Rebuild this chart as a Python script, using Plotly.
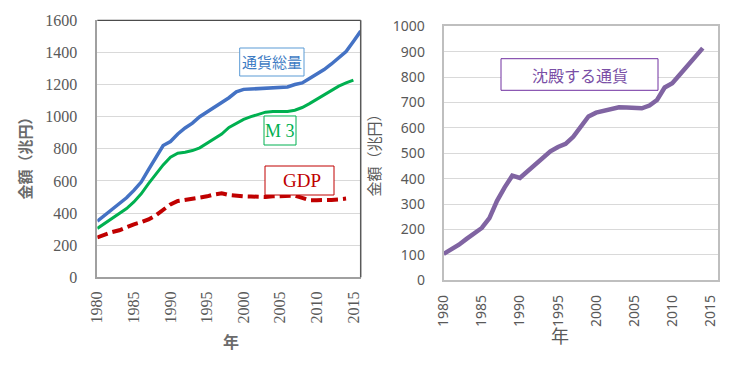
import plotly.graph_objects as go

W, H = 729, 367

years = list(range(1980, 2017))

money_total = [349, 385, 420, 455, 495, 541, 593, 670, 745, 820, 845, 892, 930, 960, 1000,
               1030, 1055, 1085, 1118, 1155, 1170, 1172, 1175, 1180, 1183, 1183, 1185, 1200,
               1210, 1238, 1265, 1293, 1328, 1365, 1406, 1468, 1533]
m3 = [304, 335, 366, 393, 428, 469, 520, 583, 645, 700, 748, 773, 779, 789, 806, 835, 862,
      892, 933, 958, 983, 1000, 1015, 1028, 1032, 1032, 1032, 1040, 1057, 1081, 1108, 1135,
      1162, 1190, 1210, 1228, None]
gdp = [248, 267, 281, 293, 314, 330, 343, 360, 386, 421, 454, 475, 483, 485, 496, 504, 516,
       523, 512, 506, 504, 503, 500, 500, 504, 506, 510, 508, 494, 480, 480, 478, 482, 485,
       490, None, None]
sediment = [104, 121, 140, 163, 186, 206, 245, 313, 366, 412, 403, 430, 456, 482, 508, 525,
            537, 565, 605, 645, 660, 666, 674, 681, 680, 678, 677, 688, 710, 759, 776, 810,
            845, 880, 914, None, None]

xtick_vals = [1980, 1985, 1990, 1995, 2000, 2005, 2010, 2015]
xtick_text = [str(v) for v in xtick_vals]

label_total = "通貨総量"
label_m3 = "M 3"
label_gdp = "GDP"
label_sed = "沈殿する通貨"
ytitle = "金額（兆円）"
xtitle = "年"


def px(x):
    return x / W


def py(y):
    return 1 - y / H


SERIF = "Liberation Serif, Times New Roman, serif"
SANS = "Noto Sans, sans-serif"
CJK = "Noto Sans CJK JP, sans-serif"
GREY = "#595959"

fig = go.Figure()
fig.add_trace(go.Scatter(x=years, y=money_total, mode="lines", xaxis="x", yaxis="y",
                         line=dict(color="#4472C4", width=3.5), connectgaps=False))
fig.add_trace(go.Scatter(x=years, y=m3, mode="lines", xaxis="x", yaxis="y",
                         line=dict(color="#00B050", width=3), connectgaps=False))
fig.add_trace(go.Scatter(x=years, y=gdp, mode="lines", xaxis="x", yaxis="y",
                         line=dict(color="#C00000", width=4, dash="11px,5px"), connectgaps=False))
fig.add_trace(go.Scatter(x=years, y=sediment, mode="lines", xaxis="x2", yaxis="y2",
                         line=dict(color="#8064A2", width=4.5), connectgaps=False))

L = dict(x0=89.3, x1=352.7, y0=12.3, y1=269.3)
R = dict(x0=435.7, x1=710.0, y0=18.3, y1=272.3)

fig.update_layout(
    width=W, height=H,
    margin=dict(l=0, r=0, t=0, b=0),
    paper_bgcolor="white", plot_bgcolor="white",
    showlegend=False,
    font=dict(family=SERIF),
    xaxis=dict(domain=[px(L["x0"]), px(L["x1"])], anchor="y", range=[1980, 2016],
               tickvals=xtick_vals, ticktext=xtick_text, tickangle=-90,
               tickfont=dict(family=SERIF, size=16, color=GREY), showgrid=False,
               zeroline=False, showline=True, linecolor="#a0a0a0", linewidth=1.5,
               ticks="", ticklabelstandoff=6, automargin=False),
    yaxis=dict(domain=[py(L["y1"]), py(L["y0"])], anchor="x", range=[0, 1600], dtick=200,
               tickfont=dict(family=SERIF, size=16, color=GREY), showgrid=True,
               gridcolor="#d9d9d9", gridwidth=1, zeroline=False, showline=True,
               linecolor="#a0a0a0", linewidth=1.5, ticks="", ticklabelstandoff=15,
               automargin=False),
    xaxis2=dict(domain=[px(R["x0"]), px(R["x1"])], anchor="y2", range=[1980, 2016],
                tickvals=xtick_vals, ticktext=xtick_text, tickangle=-90,
                tickfont=dict(family=SANS, size=14, color=GREY), showgrid=False,
                zeroline=False, showline=True, linecolor="#bfbfbf", linewidth=2, mirror=True,
                ticks="", ticklabelstandoff=7, automargin=False),
    yaxis2=dict(domain=[py(R["y1"]), py(R["y0"])], anchor="x2", range=[0, 1000], dtick=100,
                tickfont=dict(family=SANS, size=14, color=GREY), showgrid=True,
                gridcolor="#d9d9d9", gridwidth=1, zeroline=False, showline=True,
                linecolor="#bfbfbf", linewidth=2, mirror=True, ticks="",
                ticklabelstandoff=14, automargin=False),
)

shapes = [
    # left chart top and right borders
    dict(type="line", xref="paper", yref="paper", x0=px(L["x0"]), x1=px(L["x1"]),
         y0=py(L["y0"]), y1=py(L["y0"]), line=dict(color="#202020", width=1)),
    dict(type="line", xref="paper", yref="paper", x0=px(L["x1"]), x1=px(L["x1"]),
         y0=py(L["y0"]), y1=py(L["y1"]), line=dict(color="#595959", width=1.5)),
    # label boxes
    dict(type="rect", xref="paper", yref="paper", x0=px(231.7), x1=px(296), y0=py(68),
         y1=py(40), line=dict(color="#5B9BD5", width=1), fillcolor="white"),
    dict(type="rect", xref="paper", yref="paper", x0=px(256), x1=px(288), y0=py(137),
         y1=py(108), line=dict(color="#00B050", width=1), fillcolor="white"),
    dict(type="rect", xref="paper", yref="paper", x0=px(257), x1=px(326), y0=py(187),
         y1=py(158), line=dict(color="#C00000", width=1), fillcolor="white"),
    dict(type="rect", xref="paper", yref="paper", x0=px(493), x1=px(650), y0=py(82.3),
         y1=py(50.7), line=dict(color="#7030A0", width=1), fillcolor="white"),
]
fig.update_layout(shapes=shapes)

annotations = [
    dict(text=label_total, x=px(264), y=py(54), font=dict(family=CJK, size=15, color="#3E7CC4")),
    dict(text=label_m3, x=px(272), y=py(122.5), font=dict(family=SERIF, size=18, color="#00B050")),
    dict(text=label_gdp, x=px(294), y=py(172.5), font=dict(family=SERIF, size=19, color="#C00000")),
    dict(text=label_sed, x=px(571.5), y=py(66.5), font=dict(family=CJK, size=16, color="#7A4FA6")),
    dict(text="<b>" + ytitle + "</b>", x=px(16), y=py(146.5), textangle=-90,
         font=dict(family=CJK, size=15, color="#6b6b6b")),
    dict(text="<b>" + xtitle + "</b>", x=px(223), y=py(333), font=dict(family=CJK, size=16, color="#6b6b6b")),
    dict(text=ytitle, x=px(365), y=py(143.5), textangle=-90, font=dict(family=CJK, size=15, color=GREY)),
    dict(text=xtitle, x=px(552), y=py(327), font=dict(family=CJK, size=18, color=GREY)),
]
for a in annotations:
    a.update(xref="paper", yref="paper", showarrow=False, xanchor="center", yanchor="middle")
fig.update_layout(annotations=annotations)

fig.write_html("out.html")
